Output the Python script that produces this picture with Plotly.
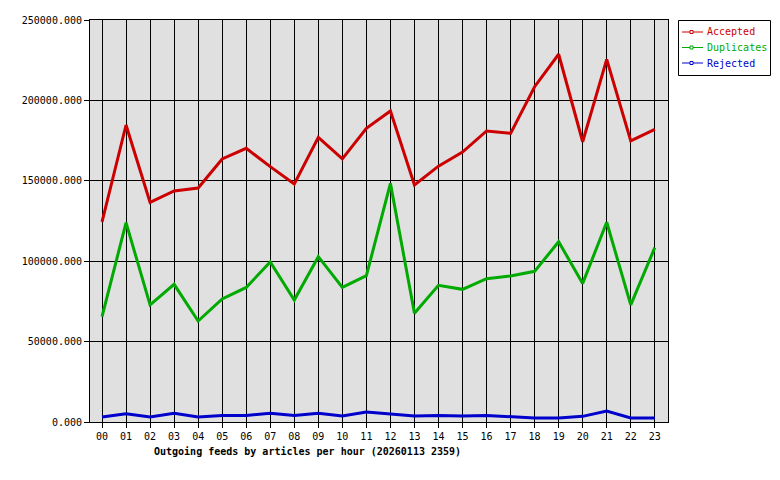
import plotly.graph_objects as go

hours = [f"{h:02d}" for h in range(24)]
accepted = [124400, 184700, 136600, 143700, 145500, 163600, 170200, 158800, 148000, 177000,
            163600, 182600, 193400, 147400, 159100, 167900, 181000, 179500, 208500, 228700,
            174300, 225500, 174800, 182000]
duplicates = [65500, 124000, 72800, 85600, 62800, 76500, 83700, 99500, 75900, 102800,
              83700, 91000, 148400, 67600, 85000, 82500, 89100, 90800, 93700, 112100,
              86200, 124200, 72800, 108400]
rejected = [3100, 5200, 3100, 5400, 3100, 4100, 4100, 5400, 4100, 5400,
            3700, 6200, 5000, 3700, 4100, 3700, 4100, 3100, 2500, 2500,
            3500, 6800, 2500, 2500]
series_names = ["Accepted", "Duplicates", "Rejected"]
colors = ["#cc0000", "#00aa00", "#0000cc"]
title_text = "Outgoing feeds by articles per hour (20260113 2359)"

FONT = "DejaVu Sans Mono, Liberation Mono, monospace"

# plot area in pixels
L, R, T, B = 90, 668, 20, 422
W, H = 780, 480


def px(xp):
    return (xp - L) / (R - L)


def py(yp):
    return (B - yp) / (B - T)


fig = go.Figure()
for name, vals, col in zip(series_names, [accepted, duplicates, rejected], colors):
    fig.add_trace(go.Scatter(
        x=hours, y=vals, mode="lines", name=name,
        line=dict(color=col, width=3), showlegend=False,
    ))

shapes = []
annotations = []
# custom legend box
shapes.append(dict(type="rect", xref="paper", yref="paper",
                   x0=px(678.5), x1=px(770.5), y0=py(75.5), y1=py(20.5),
                   line=dict(color="black", width=1), fillcolor="white", layer="above"))
for i, (name, col) in enumerate(zip(series_names, colors)):
    yc = 32 + 15.5 * i
    shapes.append(dict(type="line", xref="paper", yref="paper",
                       x0=px(682), x1=px(703), y0=py(yc), y1=py(yc),
                       line=dict(color=col, width=1), layer="above"))
    shapes.append(dict(type="rect", xref="paper", yref="paper",
                       x0=px(690), x1=px(693), y0=py(yc + 1.5), y1=py(yc - 1.5),
                       line=dict(color=col, width=1), fillcolor="white", layer="above"))
    annotations.append(dict(text=name, x=px(705), y=py(yc), xref="paper", yref="paper",
                            xanchor="left", yanchor="middle", showarrow=False,
                            font=dict(family=FONT, size=10, color=col)))

annotations.append(dict(
    text=f"<b>{title_text}</b>", x=0.377, y=-0.073, xref="paper", yref="paper",
    xanchor="center", yanchor="middle", showarrow=False,
    font=dict(family=FONT, size=10, color="black"),
))

fig.update_layout(
    width=W, height=H,
    margin=dict(l=L, r=W - R, t=T, b=H - B, autoexpand=False),
    paper_bgcolor="white",
    plot_bgcolor="#e0e0e0",
    font=dict(family=FONT, size=10, color="black"),
    showlegend=False,
    shapes=shapes,
    annotations=annotations,
)
fig.update_xaxes(
    type="category", range=[-0.5, 23.55],
    showgrid=True, gridcolor="black", gridwidth=1,
    showline=True, linecolor="black", linewidth=1, mirror=True,
    ticks="outside", ticklen=5, tickcolor="black",
    tickfont=dict(family=FONT, size=10),
)
fig.update_yaxes(
    range=[0, 250000], dtick=50000, tickformat=".3f",
    showgrid=True, gridcolor="black", gridwidth=1,
    showline=True, linecolor="black", linewidth=1, mirror=True,
    ticks="outside", ticklen=5, tickcolor="black", zeroline=False,
    tickfont=dict(family=FONT, size=10),
)

fig.write_html("out.html")
